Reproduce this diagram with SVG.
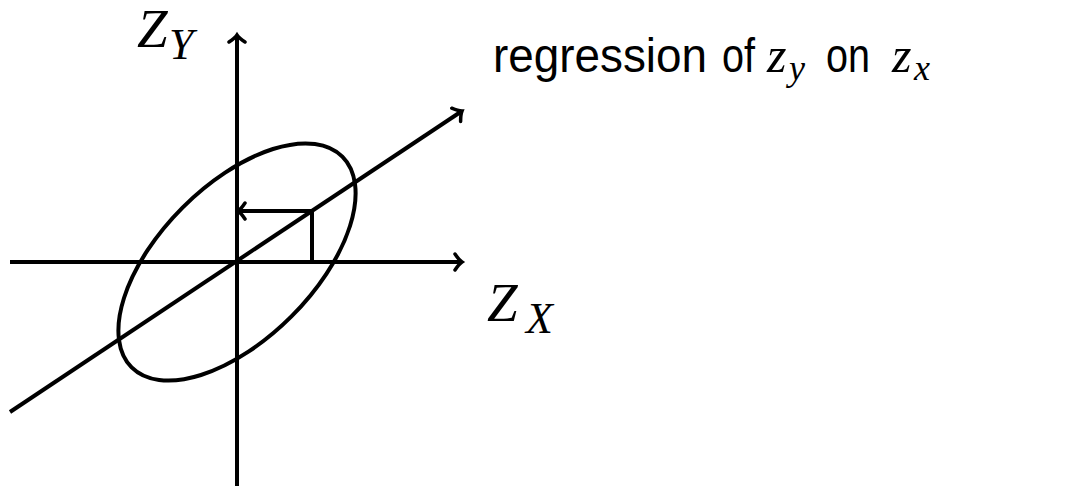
<svg xmlns="http://www.w3.org/2000/svg" width="1070" height="486" viewBox="0 0 1070 486">
<style>
.ln{stroke:#000;stroke-width:4;fill:none;stroke-linecap:butt}
.m{font-family:"Liberation Serif",serif;font-style:italic;fill:#000}
.s{font-family:"Liberation Sans",sans-serif;font-size:48px;fill:#000}
</style>
<defs>
<marker id="ah" markerUnits="userSpaceOnUse" markerWidth="20" markerHeight="20" viewBox="-10 -10 20 20" refX="0" refY="0" orient="auto">
<path d="M-7,-8 Q-3,-2 0,0 Q-3,2 -7,8" fill="none" stroke="#000" stroke-width="3.5" stroke-linecap="round"/>
</marker>
</defs>
<rect width="1070" height="486" fill="#fff"/>
<g id="connectors">
<line class="ln" x1="237" y1="486" x2="237" y2="35" marker-end="url(#ah)"/>
<line class="ln" x1="10" y1="262" x2="462" y2="262" marker-end="url(#ah)"/>
<line class="ln" x1="10" y1="412" x2="462" y2="111" marker-end="url(#ah)"/>
<line class="ln" x1="312" y1="262" x2="312" y2="211"/>
<line class="ln" x1="312" y1="211" x2="238" y2="211" marker-end="url(#ah)"/>
</g>
<g id="ellipse">
<ellipse class="ln" cx="237" cy="262" rx="149" ry="77" transform="rotate(-45 237 262)"/>
</g>
<g id="label-zy">
<text class="m" x="137" y="47" font-size="55">Z</text>
<text class="m" x="169" y="59" font-size="44">Y</text>
</g>
<g id="label-zx">
<text class="m" x="487" y="321" font-size="55">Z</text>
<text class="m" x="526" y="333" font-size="44">X</text>
</g>
<g id="title">
<text class="s" x="493" y="72" textLength="214" lengthAdjust="spacingAndGlyphs">regression</text>
<text class="s" x="722" y="72" textLength="33" lengthAdjust="spacingAndGlyphs">of</text>
<text class="m" x="767" y="72" font-size="50">z</text>
<text class="m" x="789" y="80" font-size="36">y</text>
<text class="s" x="826" y="72" textLength="44" lengthAdjust="spacingAndGlyphs">on</text>
<text class="m" x="892" y="72" font-size="50">z</text>
<text class="m" x="914" y="80" font-size="36">x</text>
</g>
</svg>
